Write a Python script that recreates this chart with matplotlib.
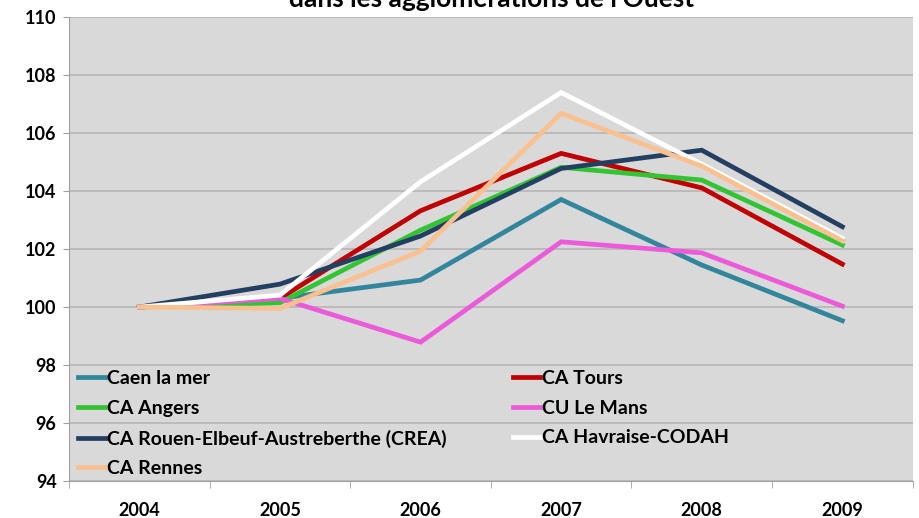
import numpy as np
import matplotlib.pyplot as plt

years = ["2004", "2005", "2006", "2007", "2008", "2009"]

caen = [100, 100.3, 100.93, 103.71, 101.45, 99.53]
tours = [100, 100.3, 103.32, 105.3, 104.11, 101.48]
angers = [100, 100.15, 102.65, 104.82, 104.38, 102.14]
le_mans = [100, 100.3, 98.79, 102.25, 101.87, 100.03]
crea = [100, 100.79, 102.45, 104.78, 105.41, 102.77]
havre = [100, 100.41, 104.32, 107.4, 104.93, 102.37]
rennes = [100, 99.95, 101.93, 106.68, 104.86, 102.28]

series = [
    ("Caen la mer", caen, "#31859C"),
    ("CA Tours", tours, "#C00000"),
    ("CA Angers", angers, "#33C433"),
    ("CU Le Mans", le_mans, "#EC5ADA"),
    ("CA Rouen-Elbeuf-Austreberthe (CREA)", crea, "#233F62"),
    ("CA Havraise-CODAH", havre, "#FFFFFF"),
    ("CA Rennes", rennes, "#FAC090"),
]
# draw order: back to front as in the original
draw_order = [0, 1, 2, 3, 6, 4, 5]

plt.rcParams['font.family'] = ['Lato', 'DejaVu Sans']

fig = plt.figure(figsize=(9.19, 5.18), dpi=100)
ax = fig.add_axes([0.0751, 0.0714, 0.918, 0.8956])
ax.set_facecolor("#D9D9D9")

x = np.arange(len(years))
lines = {}
for i in draw_order:
    name, vals, col = series[i]
    ln, = ax.plot(x, vals, color=col, lw=3.4, solid_joinstyle="miter", label=name, zorder=3 + i * 0.1)
    lines[i] = ln

ax.set_xlim(-0.5, len(years) - 0.5)
ax.set_ylim(94, 110)
ax.set_yticks(np.arange(94, 111, 2))
ax.yaxis.grid(True, color="#B5B5B5", lw=1.2)
ax.set_axisbelow(True)

ax.set_xticks(x)
ax.set_xticklabels(years, fontsize=13, fontweight="bold")
ax.set_xticks(np.arange(-0.5, len(years), 1), minor=True)
ax.tick_params(axis="x", which="major", length=0, pad=15)
ax.tick_params(axis="x", which="minor", length=5, color="#A0A0A0")
ax.tick_params(axis="y", length=4, color="#A0A0A0", pad=5)
for lab in ax.get_yticklabels():
    lab.set_fontsize(13)
    lab.set_fontweight("bold")

for s in ["top", "right"]:
    ax.spines[s].set_visible(False)
ax.spines["left"].set_color("#A0A0A0")
ax.spines["bottom"].set_color("#A0A0A0")

order = [0, 2, 4, 6, 1, 3, 5]
leg = ax.legend([lines[i] for i in order], [series[i][0] for i in order],
                ncol=2, loc="upper left", bbox_to_anchor=(0.011, 0.239),
                frameon=False, prop={"weight": "bold", "size": 14},
                handlelength=1.4, handletextpad=0.1, columnspacing=3.4,
                labelspacing=0.65, borderaxespad=0, borderpad=0)

fig.text(0.535, 0.986, "dans les agglomérations de l'Ouest", ha="center", va="baseline",
         fontsize=19, fontweight="bold")

fig.savefig("out.png", dpi=100)
